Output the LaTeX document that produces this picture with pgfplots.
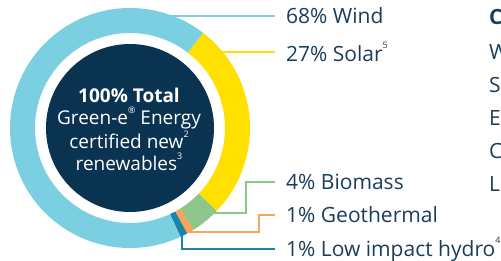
\documentclass[border=0pt]{standalone}
\usepackage{pgfplots}
\pgfplotsset{compat=1.18}
\usepackage{pgfplotstable}
\usepackage{fontspec}
\setmainfont{Open Sans}
\definecolor{windc}{HTML}{7ACFE0}
\definecolor{solarc}{HTML}{FFE000}
\definecolor{bioc}{HTML}{8DC68B}
\definecolor{geoc}{HTML}{F8A45A}
\definecolor{hydroc}{HTML}{1786A8}
\definecolor{darkc}{HTML}{0A3352}
\definecolor{txtc}{HTML}{1B3D5C}

\pgfplotstableread{
name value
Solar 27
Biomass 4
Geothermal 1
Hydro 1
Wind 68
}\mixtable

\newcommand\supr[1]{\raisebox{0.6em}{\fontsize{9}{9}\selectfont #1}}
\newcommand\wedgeseg[3]{%
  \fill[#3, shift={(axis cs:130,132)}] (#1:120pt) arc[start angle=#1, end angle=#2, radius=120pt]
     -- (#2:95pt) arc[start angle=#2, end angle=#1, radius=95pt] -- cycle;}

\begin{document}
\begin{tikzpicture}
\pgfplotstablegetelem{0}{value}\of\mixtable \let\vS\pgfplotsretval
\pgfplotstablegetelem{1}{value}\of\mixtable \let\vB\pgfplotsretval
\pgfplotstablegetelem{2}{value}\of\mixtable \let\vG\pgfplotsretval
\pgfplotstablegetelem{3}{value}\of\mixtable \let\vH\pgfplotsretval
\pgfplotstablegetelem{4}{value}\of\mixtable \let\vW\pgfplotsretval
\pgfmathsetmacro{\tot}{\vS+\vB+\vG+\vH+\vW}
\pgfmathsetmacro{\aA}{52.5}
\pgfmathsetmacro{\aB}{\aA-360*(\vS/\tot)}
\pgfmathsetmacro{\aC}{\aB-360*(\vB/\tot)}
\pgfmathsetmacro{\aD}{\aC-360*(\vG/\tot)}
\pgfmathsetmacro{\aE}{\aD-360*(\vH/\tot)}
\pgfmathsetmacro{\aF}{\aE-360*(\vW/\tot)}
\useasboundingbox (0,0) rectangle (501pt,260pt);
\clip (0,0) rectangle (501pt,260pt);
\begin{axis}[x=1pt,y=1pt,xmin=0,xmax=501,ymin=0,ymax=260,
  hide axis, clip=false, at={(0,0)}, anchor=south west]
\wedgeseg{\aA}{\aB}{solarc}
\wedgeseg{\aB}{\aC}{bioc}
\wedgeseg{\aC}{\aD}{geoc}
\wedgeseg{\aD}{\aE}{hydroc}
\wedgeseg{\aE}{\aF}{windc}
\fill[darkc] (axis cs:130,132) circle[radius=84pt];

% leader lines
\addplot[windc, line width=1.5pt] coordinates {(170,244) (275,244)};
\addplot[solarc, line width=1.5pt] coordinates {(215,208) (275,208)};
\addplot[bioc, line width=1.5pt] coordinates {(205,47) (246,47) (246,78) (275,78)};
\addplot[geoc, line width=1.5pt] coordinates {(189,28) (259,28) (259,45) (275,45)};
\addplot[hydroc, line width=1.5pt] coordinates {(182,27) (182,11) (275,11)};

% labels
\begin{scope}[every node/.style={anchor=west, inner sep=0pt, text=txtc, font=\fontsize{21}{25}\selectfont}]
\node at (axis cs:286,244) {68\% Wind};
\node at (axis cs:286,208) {27\% Solar\supr{5}};
\node at (axis cs:286,78) {4\% Biomass};
\node at (axis cs:286,45) {1\% Geothermal};
\node at (axis cs:286,11) {1\% Low impact hydro\supr{4}};
\node at (axis cs:489,243) {\bfseries C};
\node at (axis cs:489,208) {W};
\node at (axis cs:489,175) {S};
\node at (axis cs:489,142) {E};
\node at (axis cs:489,109) {C};
\node at (axis cs:489,76) {L};
\end{scope}

% center text
\begin{scope}[every node/.style={anchor=center, inner sep=0pt, text=white, font=\fontsize{19}{22}\selectfont}]
\node at (axis cs:129,165) {\bfseries 100\% Total};
\node at (axis cs:129,142) {Green-e\supr{®} Energy};
\node at (axis cs:129,120) {certified new\supr{2}};
\node at (axis cs:129,98) {renewables\supr{3}};
\end{scope}
\end{axis}
\end{tikzpicture}
\end{document}
